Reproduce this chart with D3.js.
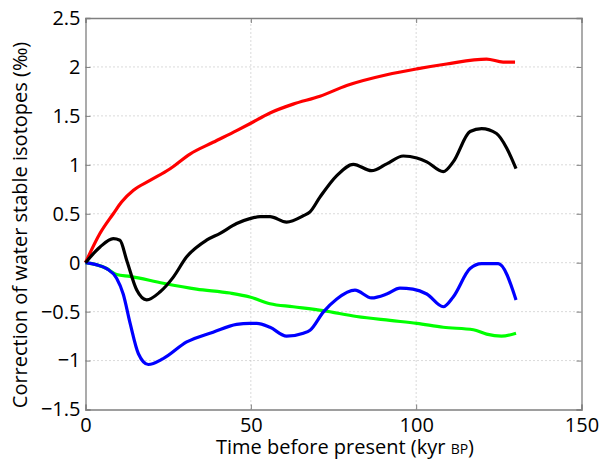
<!DOCTYPE html>
<html>
<head>
<meta charset="utf-8">
<script src="https://cdn.jsdelivr.net/npm/d3@7"></script>
<style>
  html, body { margin: 0; padding: 0; background: #fff; }
  svg { display: block; }
  text { font-family: "Open Sans", "DejaVu Sans", sans-serif; fill: #000; }
</style>
</head>
<body>
<svg id="chart" width="599" height="460"></svg>
<script>
// Tick positions
const xTicks = [0, 50, 100, 150];
const yTicks = [-1.5, -1, -0.5, 0, 0.5, 1, 1.5, 2, 2.5];

// Red series: [kyr BP, correction ‰]
const redSeries = [
  [0, 0], [4.4, 0.30], [8.4, 0.50], [10.9, 0.62], [14.5, 0.74], [19.5, 0.84],
  [25.6, 0.96], [31.6, 1.11], [38.6, 1.23], [45.7, 1.35], [49.7, 1.42],
  [55.8, 1.53], [62.8, 1.62], [70.9, 1.70], [79.0, 1.81], [91.1, 1.92],
  [100.2, 1.98], [109.2, 2.03], [121.3, 2.08], [126.3, 2.05], [129.9, 2.05]
];

// Black series
const blackSeries = [
  [0, 0], [4.4, 0.16], [8.4, 0.245], [10.4, 0.23], [12.5, 0.02], [15.5, -0.28],
  [18.5, -0.38], [22.5, -0.30], [26.5, -0.15], [30.6, 0.06], [36.6, 0.23],
  [40.7, 0.30], [45.7, 0.40], [49.7, 0.45], [52.8, 0.47], [55.8, 0.47],
  [60.8, 0.415], [65.9, 0.48], [67.9, 0.52], [70.9, 0.67], [76.0, 0.89],
  [81.0, 1.005], [86.5, 0.94], [91.1, 1.01], [96.1, 1.09], [100.2, 1.07],
  [103.2, 1.03], [108.2, 0.93], [111.2, 1.03], [116.3, 1.34], [119.8, 1.37],
  [124.3, 1.32], [127.4, 1.17], [130.2, 0.96]
];

// Blue series
const blueSeries = [
  [0, 0], [3.2, -0.02], [6.4, -0.06], [9.4, -0.16], [11.4, -0.32], [13.5, -0.62],
  [16.0, -0.93], [19.0, -1.04], [23.5, -0.98], [30.6, -0.81], [38.6, -0.71],
  [45.7, -0.63], [49.7, -0.62], [51.8, -0.62], [55.8, -0.66], [60.8, -0.75],
  [65.9, -0.72], [67.9, -0.69], [71.9, -0.505], [76.0, -0.37], [81.5, -0.28],
  [86.5, -0.36], [91.1, -0.32], [95.1, -0.26], [99.0, -0.27], [103.2, -0.32],
  [108.2, -0.45], [111.2, -0.35], [116.3, -0.06], [119.8, -0.01], [124.8, -0.01],
  [130.2, -0.38]
];

// Green series
const greenSeries = [
  [0, 0], [3.2, -0.02], [6.4, -0.06], [9.4, -0.12], [13.5, -0.14], [23.5, -0.21],
  [33.6, -0.27], [43.7, -0.31], [49.7, -0.35], [55.8, -0.42], [62.8, -0.45],
  [71.9, -0.49], [82.0, -0.55], [92.1, -0.59], [100.2, -0.62], [108.2, -0.66],
  [117.3, -0.685], [121.3, -0.73], [125.8, -0.75], [130.2, -0.72]
];

const seriesList = [
  { data: greenSeries, color: "#00ff00" },
  { data: redSeries, color: "#ff0000" },
  { data: blueSeries, color: "#0000ff" },
  { data: blackSeries, color: "#000000" }
];

const margin = { left: 85.5, top: 18, right: 17.5, bottom: 50.5 };
const W = 599, H = 460;
const svg = d3.select("#chart");

const x = d3.scaleLinear().domain([0, 150]).range([margin.left, W - margin.right]);
const y = d3.scaleLinear().domain([-1.5, 2.5]).range([H - margin.bottom, margin.top]);

const x0 = x.range()[0], x1 = x.range()[1];
const y0 = y.range()[0], y1 = y.range()[1];

// Dotted grid
const grid = svg.append("g").attr("stroke", "#b4b4b4").attr("stroke-width", 1)
  .attr("stroke-dasharray", "1,3");
grid.selectAll("line.gx").data(xTicks.slice(1, -1)).join("line")
  .attr("x1", d => x(d)).attr("x2", d => x(d)).attr("y1", y0).attr("y2", y1);
grid.selectAll("line.gy").data(yTicks.slice(1, -1)).join("line")
  .attr("y1", d => y(d)).attr("y2", d => y(d)).attr("x1", x0).attr("x2", x1);

// Axes with inward ticks
const tickLen = 5;
const axisColor = "#7f7f7f";
const tickFs = "20px";
const titleFs = "20px";

const gxB = svg.append("g").attr("transform", `translate(0,${y0})`)
  .call(d3.axisBottom(x).tickValues(xTicks).tickSize(-tickLen).tickPadding(8).tickFormat(d3.format("d")));
const gxT = svg.append("g").attr("transform", `translate(0,${y1})`)
  .call(d3.axisTop(x).tickValues(xTicks).tickSize(-tickLen).tickFormat(""));
const gyL = svg.append("g").attr("transform", `translate(${x0},0)`)
  .call(d3.axisLeft(y).tickValues(yTicks).tickSize(-tickLen).tickPadding(5)
    .tickFormat(d => d3.format("")(d).replace("-", "\u2212")));
const gyR = svg.append("g").attr("transform", `translate(${x1},0)`)
  .call(d3.axisRight(y).tickValues(yTicks).tickSize(-tickLen).tickFormat(""));

[gxB, gxT, gyL, gyR].forEach(g => {
  g.select(".domain").attr("stroke", axisColor).attr("stroke-width", 1.3);
  g.selectAll(".tick line").attr("stroke", axisColor).attr("stroke-width", 1);
  g.selectAll("text").attr("font-family", "\"Open Sans\", sans-serif").attr("font-size", tickFs).attr("fill", "#000");
});

// Curves
const line = d3.line().x(d => x(d[0])).y(d => y(d[1])).curve(d3.curveMonotoneX);
svg.append("g").selectAll("path").data(seriesList).join("path")
  .attr("d", d => line(d.data))
  .attr("fill", "none")
  .attr("stroke", d => d.color)
  .attr("stroke-width", 3.2)
  .attr("stroke-linejoin", "round")
  .attr("stroke-linecap", "butt");

// Axis titles
const xt = svg.append("text")
  .attr("x", 345).attr("y", 454)
  .attr("text-anchor", "middle").attr("font-size", titleFs);
xt.append("tspan").text("Time before present (kyr ");
xt.append("tspan").attr("font-size", "14px").text("BP");
xt.append("tspan").text(")");

svg.append("text")
  .attr("transform", `translate(27,225) rotate(-90)`)
  .attr("text-anchor", "middle").attr("font-size", titleFs)
  .text("Correction of water stable isotopes (\u2030)");
</script>
</body>
</html>
